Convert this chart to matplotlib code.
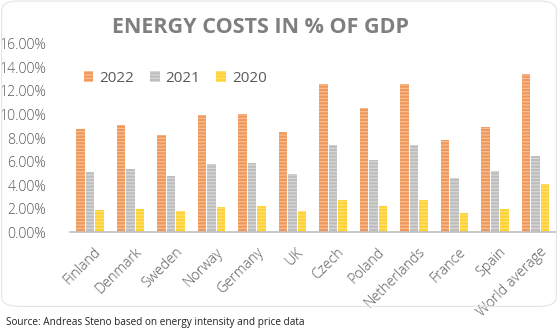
import numpy as np
import matplotlib.pyplot as plt
import matplotlib.transforms as mtransforms
from matplotlib.patches import FancyBboxPatch
from matplotlib.ticker import FuncFormatter

# ── Data ──────────────────────────────────────────────────────────────────────
countries = ['Finland', 'Denmark', 'Sweden', 'Norway', 'Germany', 'UK', 'Czech',
             'Poland', 'Netherlands', 'France', 'Spain', 'World average']
years = ['2022', '2021', '2020']
cost_2022 = [8.77, 9.10, 8.23, 9.96, 10.04, 8.48, 12.60, 10.55, 12.60, 7.83, 8.96, 13.45]
cost_2021 = [5.13, 5.34, 4.80, 5.80, 5.90, 4.90, 7.40, 6.13, 7.40, 4.57, 5.19, 6.50]
cost_2020 = [1.90, 2.00, 1.80, 2.10, 2.20, 1.80, 2.72, 2.24, 2.72, 1.65, 1.93, 4.09]

COLORS = ['#F0985A', '#BDBDBD', '#FFD233']
HATCH_COLORS = ['#F8C29A', '#DADADA', '#FFE27A']
TEXT_GREY = '#595959'

plt.rcParams.update({
    'font.family': ['Open Sans', 'DejaVu Sans'],
    'hatch.linewidth': 0.8,
})

fig = plt.figure(figsize=(5.58, 3.33), dpi=100)
ax = fig.add_axes([0.125, 0.303, 0.871, 0.565])

x = np.arange(len(countries))
width = 0.2
offsets = [-0.234, 0.0, 0.234]
for series, off, col, hcol, lab in zip([cost_2022, cost_2021, cost_2020], offsets,
                                       COLORS, HATCH_COLORS, years):
    ax.bar(x + off, series, width=width, color=col, edgecolor=hcol,
           hatch='-----', linewidth=0, label=lab)

ax.set_xlim(-0.5, len(countries) - 0.5)
ax.set_ylim(0, 16)
ax.set_yticks(np.arange(0, 17, 2))
ax.yaxis.set_major_formatter(FuncFormatter(lambda v, _: f'{v:.2f}%'))
ax.tick_params(axis='y', length=0, labelsize=10.2, labelcolor=TEXT_GREY, pad=17)
ax.tick_params(axis='x', length=0, labelsize=10.3, labelcolor=TEXT_GREY, pad=9)
ax.set_xticks(x)
ax.set_xticklabels(countries, rotation=45, ha='right', rotation_mode='anchor')
shift = mtransforms.ScaledTranslation(4 / 100, 0, fig.dpi_scale_trans)
for lbl in ax.get_xticklabels():
    lbl.set_transform(lbl.get_transform() + shift)
for lbl in ax.get_xticklabels() + ax.get_yticklabels():
    lbl.set_fontweight('light')

for side in ['top', 'right', 'left']:
    ax.spines[side].set_visible(False)
ax.spines['bottom'].set_color('#BFBFBF')
ax.spines['bottom'].set_linewidth(1.2)

leg = ax.legend(loc='upper left', bbox_to_anchor=(0.0, 0.93), ncol=3, frameon=False,
                fontsize=11, handlelength=0.65, handleheight=0.65, handletextpad=0.4,
                columnspacing=1.0, labelcolor=TEXT_GREY)

fig.text(0.467, 0.918, 'ENERGY COSTS IN % OF GDP', ha='center', va='center',
         fontsize=15.5, fontweight='bold', color='#7F7F7F')
fig.text(0.010, 0.033, 'Source: Andreas Steno based on energy intensity and price data',
         ha='left', va='center', fontsize=7.2, color='#222222')

fig.patches.append(FancyBboxPatch((0.003, 0.08), 0.994, 0.917,
                                  boxstyle='round,pad=0,rounding_size=0.03',
                                  transform=fig.transFigure, facecolor='none',
                                  edgecolor='#E4E4E4', linewidth=0.8))

fig.savefig('out.png', dpi=100)
